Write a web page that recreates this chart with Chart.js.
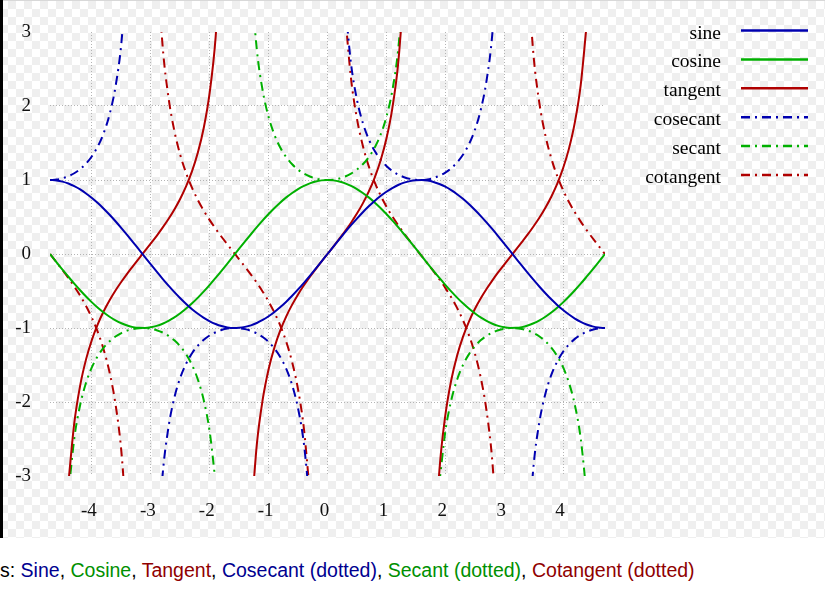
<!DOCTYPE html>
<html lang="en">
<head>
<meta charset="UTF-8">
<title>Trigonometric functions</title>
<script src="https://cdn.jsdelivr.net/npm/chart.js"></script>
<style>
  body { margin: 0; background: #fff; width: 825px; height: 597px; overflow: hidden; position: relative; }
  #plot {
    position: absolute; left: 0; top: 0; width: 825px; height: 538px;
    background-color: #fff;
    background-image: conic-gradient(#efefef 25%, transparent 0 50%, #efefef 0 75%, transparent 0);
    background-size: 16px 16px;
    border-top: 1px solid #d8d8d8; box-sizing: border-box;
  }
  #plot canvas { position: absolute; left: 0; top: 0; }
  #bar { position: absolute; left: 0; top: 0; width: 3px; height: 538px; background: #000; }
  #caption { position: absolute; left: 0; top: 559px; font: 19.5px "Liberation Sans", Arial, sans-serif; white-space: nowrap; color: #000; }
</style>
</head>
<body>
<div id="plot"><canvas id="trig" width="825" height="538"></canvas></div>
<div id="bar"></div>
<div id="caption">s: <span style="color:#000090">Sine</span>, <span style="color:#009000">Cosine</span>, <span style="color:#900000">Tangent</span>, <span style="color:#000090">Cosecant (dotted)</span>, <span style="color:#009000">Secant (dotted)</span>, <span style="color:#900000">Cotangent (dotted)</span></div>

<script>
// x positions (-3pi/2 .. 3pi/2), one y value per x in each series, null = off the chart
const xs = [
  -4.71, -4.6, -4.5, -4.4, -4.3, -4.2, -4.1,
  -4.0, -3.9, -3.8, -3.7, -3.6, -3.5, -3.4, -3.3, -3.2, -3.1,
  -3.0, -2.9, -2.8, -2.7, -2.6, -2.5, -2.4, -2.3, -2.2, -2.1,
  -2.0, -1.9, -1.8, -1.7, -1.6, -1.5, -1.4, -1.3, -1.2, -1.1,
  -1.0, -0.9, -0.8, -0.7, -0.6, -0.5, -0.4, -0.3, -0.2, -0.1,
  0,
  0.1, 0.2, 0.3, 0.4, 0.5, 0.6, 0.7, 0.8, 0.9, 1.0,
  1.1, 1.2, 1.3, 1.4, 1.5, 1.6, 1.7, 1.8, 1.9, 2.0,
  2.1, 2.2, 2.3, 2.4, 2.5, 2.6, 2.7, 2.8, 2.9, 3.0,
  3.1, 3.2, 3.3, 3.4, 3.5, 3.6, 3.7, 3.8, 3.9, 4.0,
  4.1, 4.2, 4.3, 4.4, 4.5, 4.6, 4.71
];

const sine = [
  1.000, 0.994, 0.978, 0.952, 0.916, 0.872, 0.818,
  0.757, 0.688, 0.612, 0.530, 0.443, 0.351, 0.256, 0.158, 0.058, -0.042,
  -0.141, -0.239, -0.335, -0.427, -0.516, -0.598, -0.675, -0.746, -0.808, -0.863,
  -0.909, -0.946, -0.974, -0.992, -1.000, -0.997, -0.985, -0.964, -0.932, -0.891,
  -0.841, -0.783, -0.717, -0.644, -0.565, -0.479, -0.389, -0.296, -0.199, -0.100,
  0,
  0.100, 0.199, 0.296, 0.389, 0.479, 0.565, 0.644, 0.717, 0.783, 0.841,
  0.891, 0.932, 0.964, 0.985, 0.997, 1.000, 0.992, 0.974, 0.946, 0.909,
  0.863, 0.808, 0.746, 0.675, 0.598, 0.516, 0.427, 0.335, 0.239, 0.141,
  0.042, -0.058, -0.158, -0.256, -0.351, -0.443, -0.530, -0.612, -0.688, -0.757,
  -0.818, -0.872, -0.916, -0.952, -0.978, -0.994, -1.000
];

const cosine = [
  0.000, -0.112, -0.211, -0.307, -0.401, -0.490, -0.575,
  -0.654, -0.726, -0.791, -0.848, -0.897, -0.936, -0.967, -0.988, -0.998, -0.999,
  -0.990, -0.971, -0.942, -0.904, -0.857, -0.801, -0.737, -0.666, -0.589, -0.505,
  -0.416, -0.323, -0.227, -0.129, -0.029, 0.071, 0.170, 0.267, 0.362, 0.454,
  0.540, 0.622, 0.697, 0.765, 0.825, 0.878, 0.921, 0.955, 0.980, 0.995,
  1,
  0.995, 0.980, 0.955, 0.921, 0.878, 0.825, 0.765, 0.697, 0.622, 0.540,
  0.454, 0.362, 0.267, 0.170, 0.071, -0.029, -0.129, -0.227, -0.323, -0.416,
  -0.505, -0.589, -0.666, -0.737, -0.801, -0.857, -0.904, -0.942, -0.971, -0.990,
  -0.999, -0.998, -0.988, -0.967, -0.936, -0.897, -0.848, -0.791, -0.726, -0.654,
  -0.575, -0.490, -0.401, -0.307, -0.211, -0.112, 0.000
];

const tangent = [
  null, null, null, -3.097, -2.286, -1.778, -1.424,
  -1.158, -0.947, -0.774, -0.625, -0.493, -0.375, -0.264, -0.160, -0.058, 0.042,
  0.143, 0.246, 0.356, 0.473, 0.602, 0.747, 0.916, 1.119, 1.374, 1.710,
  2.185, 2.927, 4.286, null, null, null, null, -3.602, -2.572, -1.965,
  -1.557, -1.260, -1.030, -0.842, -0.684, -0.546, -0.423, -0.309, -0.203, -0.100,
  0,
  0.100, 0.203, 0.309, 0.423, 0.546, 0.684, 0.842, 1.030, 1.260, 1.557,
  1.965, 2.572, 3.602, null, null, null, null, -4.286, -2.927, -2.185,
  -1.710, -1.374, -1.119, -0.916, -0.747, -0.602, -0.473, -0.356, -0.246, -0.143,
  -0.042, 0.058, 0.160, 0.264, 0.375, 0.493, 0.625, 0.774, 0.947, 1.158,
  1.424, 1.778, 2.286, 3.097, null, null, null
];

const cosecant = [
  1.000, 1.006, 1.023, 1.051, 1.091, 1.147, 1.222,
  1.321, 1.454, 1.634, 1.888, 2.260, 2.851, 3.914, null, null, null,
  null, -4.181, -2.985, -2.340, -1.940, -1.671, -1.480, -1.341, -1.237, -1.159,
  -1.100, -1.057, -1.027, -1.008, -1.000, -1.003, -1.015, -1.038, -1.073, -1.122,
  -1.188, -1.277, -1.394, -1.552, -1.771, -2.086, -2.568, -3.384, null, null,
  null,
  null, null, 3.384, 2.568, 2.086, 1.771, 1.552, 1.394, 1.277, 1.188,
  1.122, 1.073, 1.038, 1.015, 1.003, 1.000, 1.008, 1.027, 1.057, 1.100,
  1.159, 1.237, 1.341, 1.480, 1.671, 1.940, 2.340, 2.985, 4.181, null,
  null, null, null, -3.914, -2.851, -2.260, -1.888, -1.634, -1.454, -1.321,
  -1.222, -1.147, -1.091, -1.051, -1.023, -1.006, -1.000
];

const secant = [
  null, null, null, -3.254, -2.495, -2.040, -1.740,
  -1.530, -1.378, -1.264, -1.179, -1.115, -1.068, -1.034, -1.013, -1.002, -1.001,
  -1.010, -1.030, -1.061, -1.106, -1.167, -1.248, -1.356, -1.501, -1.699, -1.981,
  -2.403, -3.093, null, null, null, null, null, 3.738, 2.760, 2.205,
  1.851, 1.609, 1.435, 1.308, 1.212, 1.140, 1.086, 1.047, 1.020, 1.005,
  1,
  1.005, 1.020, 1.047, 1.086, 1.140, 1.212, 1.308, 1.435, 1.609, 1.851,
  2.205, 2.760, 3.738, null, null, null, null, null, -3.093, -2.403,
  -1.981, -1.699, -1.501, -1.356, -1.248, -1.167, -1.106, -1.061, -1.030, -1.010,
  -1.001, -1.002, -1.013, -1.034, -1.068, -1.115, -1.179, -1.264, -1.378, -1.530,
  -1.740, -2.040, -2.495, -3.254, null, null, null
];

const cotangent = [
  0.000, -0.113, -0.216, -0.323, -0.438, -0.563, -0.702,
  -0.864, -1.055, -1.293, -1.601, -2.027, -2.670, -3.784, null, null, null,
  null, 4.059, 2.813, 2.115, 1.662, 1.339, 1.092, 0.894, 0.728, 0.585,
  0.458, 0.342, 0.233, 0.130, 0.029, -0.071, -0.173, -0.278, -0.389, -0.509,
  -0.642, -0.794, -0.971, -1.187, -1.462, -1.830, -2.365, -3.233, null, null,
  null,
  null, null, 3.233, 2.365, 1.830, 1.462, 1.187, 0.971, 0.794, 0.642,
  0.509, 0.389, 0.278, 0.173, 0.071, -0.029, -0.130, -0.233, -0.342, -0.458,
  -0.585, -0.728, -0.894, -1.092, -1.339, -1.662, -2.115, -2.813, -4.059, null,
  null, null, null, 3.784, 2.670, 2.027, 1.601, 1.293, 1.055, 0.864,
  0.702, 0.563, 0.438, 0.323, 0.216, 0.113, 0.000
];

const xTicks = [-4, -3, -2, -1, 0, 1, 2, 3, 4];
const yTicks = [-3, -2, -1, 0, 1, 2, 3];

const BLUE = '#0000b0', GREEN = '#00b000', RED = '#b00000';
const DASHDOT = [9, 5, 2, 5];
const SERIF = '"Liberation Serif", "Times New Roman", serif';

function series(label, ys, color, dash) {
  return {
    label: label,
    data: xs.map((x, i) => ({ x: x, y: ys[i] })),
    borderColor: color,
    borderWidth: 2,
    borderDash: dash,
    pointRadius: 0,
    fill: false,
    spanGaps: false,
    cubicInterpolationMode: 'monotone'
  };
}

// legend on the right: label text first, then line sample
const sideLegend = {
  id: 'sideLegend',
  afterDraw(chart) {
    const ctx = chart.ctx;
    ctx.save();
    ctx.font = '19.5px ' + SERIF;
    ctx.textAlign = 'right';
    ctx.textBaseline = 'alphabetic';
    chart.data.datasets.forEach((ds, i) => {
      const y = 29.5 + i * 28.9;
      ctx.fillStyle = '#000';
      ctx.fillText(ds.label, 721, y + 8);
      ctx.strokeStyle = ds.borderColor;
      ctx.lineWidth = 2.5;
      ctx.setLineDash(ds.borderDash);
      ctx.beginPath();
      ctx.moveTo(741, y);
      ctx.lineTo(808, y);
      ctx.stroke();
    });
    ctx.restore();
  }
};

new Chart(document.getElementById('trig'), {
  type: 'line',
  data: {
    datasets: [
      series('sine', sine, BLUE, []),
      series('cosine', cosine, GREEN, []),
      series('tangent', tangent, RED, []),
      series('cosecant', cosecant, BLUE, DASHDOT),
      series('secant', secant, GREEN, DASHDOT),
      series('cotangent', cotangent, RED, DASHDOT)
    ]
  },
  options: {
    responsive: false,
    devicePixelRatio: 1,
    animation: false,
    layout: { padding: { top: 31, right: 220, bottom: 0, left: 0 } },
    plugins: { legend: { display: false }, tooltip: { enabled: false } },
    scales: {
      x: {
        type: 'linear',
        min: -4.712,
        max: 4.712,
        afterBuildTicks: s => { s.ticks = xTicks.map(v => ({ value: v })); },
        afterFit: s => { s.height = 63; },
        border: { display: false, dash: [1, 2] },
        grid: { color: '#b4b4b4', lineWidth: 1, drawTicks: false },
        ticks: { color: '#111', font: { family: SERIF, size: 19 }, padding: 24, labelOffset: -3 }
      },
      y: {
        min: -3,
        max: 3,
        afterBuildTicks: s => { s.ticks = yTicks.map(v => ({ value: v })); },
        afterFit: s => { s.width = 50; },
        border: { display: false, dash: [1, 2] },
        grid: {
          color: c => (c.tick && Math.abs(c.tick.value) === 3) ? 'rgba(0,0,0,0)' : '#b4b4b4',
          lineWidth: 1,
          drawTicks: false
        },
        ticks: { color: '#111', font: { family: SERIF, size: 19 }, padding: 19 }
      }
    }
  },
  plugins: [sideLegend]
});
</script>
</body>
</html>
